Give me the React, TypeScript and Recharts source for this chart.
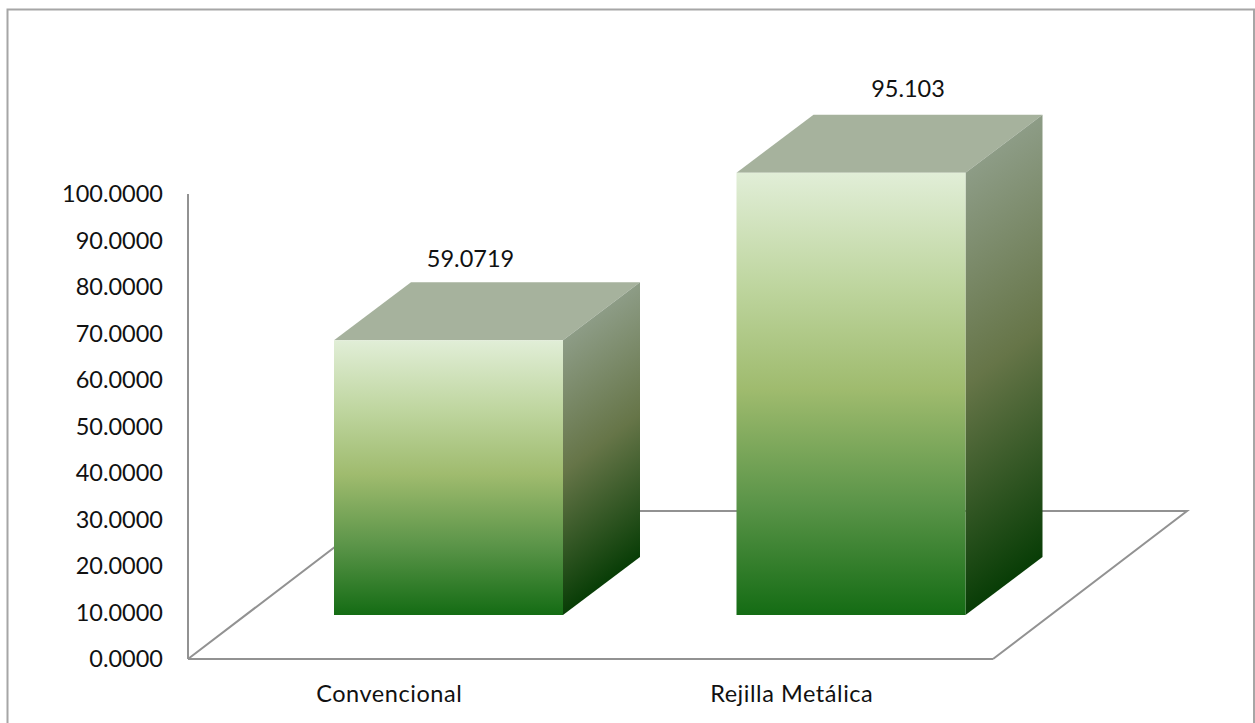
import { BarChart, Bar, XAxis, YAxis, LabelList } from "recharts";

const categories = ["Convencional", "Rejilla Metálica"];
const values = [59.0719, 95.103];
const valueLabels = ["59.0719", "95.103"];
const yTicks = [0, 10, 20, 30, 40, 50, 60, 70, 80, 90, 100];

const data = categories.map((name, i) => ({ name, value: values[i], label: valueLabels[i] }));

const FONT = "Lato, sans-serif";
const FONT_SIZE = 23.5;
const TEXT_COLOR = "#111111";
const LINE_COLOR = "#929292";

// Columns sit part-way back on the floor, and extrude further back from there
const SHIFT_X = 59;
const SHIFT_Y = -44;
const DEPTH_X = 77;
const DEPTH_Y = -58;

// Nudge of each value label from the middle of its front face and the top of its column
const LABEL_NUDGE_X = [22, 57];
const LABEL_NUDGE_Y = [-15, -18];

function Column({ x, y, width, height, index }: any) {
  const left = x + SHIFT_X;
  const right = left + width;
  const top = y + SHIFT_Y;
  const bottom = top + height;
  // Side shading runs square to the depth edges, so its bands follow the extrusion
  const len2 = DEPTH_X * DEPTH_X + DEPTH_Y * DEPTH_Y;
  const along = (height * DEPTH_X) / len2;
  const sideId = `sideFace${index}`;
  return (
    <g>
      <defs>
        <linearGradient
          id={sideId}
          gradientUnits="userSpaceOnUse"
          x1={right}
          y1={top}
          x2={right - DEPTH_Y * along}
          y2={top + DEPTH_X * along}
        >
          <stop offset="0%" stopColor="#8d9c86" />
          <stop offset="48%" stopColor="#667548" />
          <stop offset="100%" stopColor="#083d06" />
        </linearGradient>
      </defs>
      <polygon
        points={`${left},${top} ${right},${top} ${right + DEPTH_X},${top + DEPTH_Y} ${left + DEPTH_X},${top + DEPTH_Y}`}
        fill="#a6b29d"
      />
      <polygon
        points={`${right},${top} ${right + DEPTH_X},${top + DEPTH_Y} ${right + DEPTH_X},${bottom + DEPTH_Y} ${right},${bottom}`}
        fill={`url(#${sideId})`}
      />
      <rect x={left} y={top} width={width} height={height} fill="url(#frontFace)" />
    </g>
  );
}

function ColumnLabel({ x, y, width, value, index }: any) {
  return (
    <text
      x={x + SHIFT_X + width / 2 + LABEL_NUDGE_X[index]}
      y={y + SHIFT_Y + DEPTH_Y + LABEL_NUDGE_Y[index]}
      textAnchor="middle"
      fontFamily={FONT}
      fontSize={FONT_SIZE}
      fill={TEXT_COLOR}
    >
      {value}
    </text>
  );
}

export default function App() {
  return (
    <div style={{ position: "absolute", left: 0, top: 0, width: 1255, height: 723, overflow: "hidden", background: "#fff" }}>
      <BarChart
        width={1255}
        height={723}
        data={data}
        margin={{ top: 194, right: 262, bottom: 0, left: 0 }}
        barCategoryGap={0}
      >
        <defs>
          <linearGradient id="frontFace" x1="0" y1="0" x2="0" y2="1">
            <stop offset="0%" stopColor="#e1eed7" />
            <stop offset="25%" stopColor="#bfd6a0" />
            <stop offset="49%" stopColor="#9fbb6e" />
            <stop offset="75%" stopColor="#5a9448" />
            <stop offset="100%" stopColor="#146c14" />
          </linearGradient>
        </defs>

        {/* chart frame, open at the bottom */}
        <path d="M7.5 723V9.5H1254V723" fill="none" stroke="#a6a6a6" strokeWidth={2} />
        {/* floor of the 3D plot */}
        <path d="M188 659L382 511H1187L993 659" fill="none" stroke={LINE_COLOR} strokeWidth={2} />

        <XAxis
          dataKey="name"
          height={64}
          tickLine={false}
          tickSize={0}
          tickMargin={26}
          axisLine={{ stroke: LINE_COLOR, strokeWidth: 2 }}
          tick={{ fontFamily: FONT, fontSize: FONT_SIZE, fill: TEXT_COLOR, letterSpacing: 0.55 }}
        />
        <YAxis
          width={188}
          domain={[0, 100]}
          ticks={yTicks}
          interval={0}
          tickLine={false}
          tickSize={0}
          tickMargin={25}
          tickFormatter={(v: number) => v.toFixed(4)}
          axisLine={{ stroke: LINE_COLOR, strokeWidth: 2 }}
          tick={{ fontFamily: FONT, fontSize: FONT_SIZE, fill: TEXT_COLOR }}
        />
        <Bar dataKey="value" barSize={229} shape={<Column />} isAnimationActive={false}>
          <LabelList dataKey="label" content={<ColumnLabel />} />
        </Bar>
      </BarChart>
    </div>
  );
}
